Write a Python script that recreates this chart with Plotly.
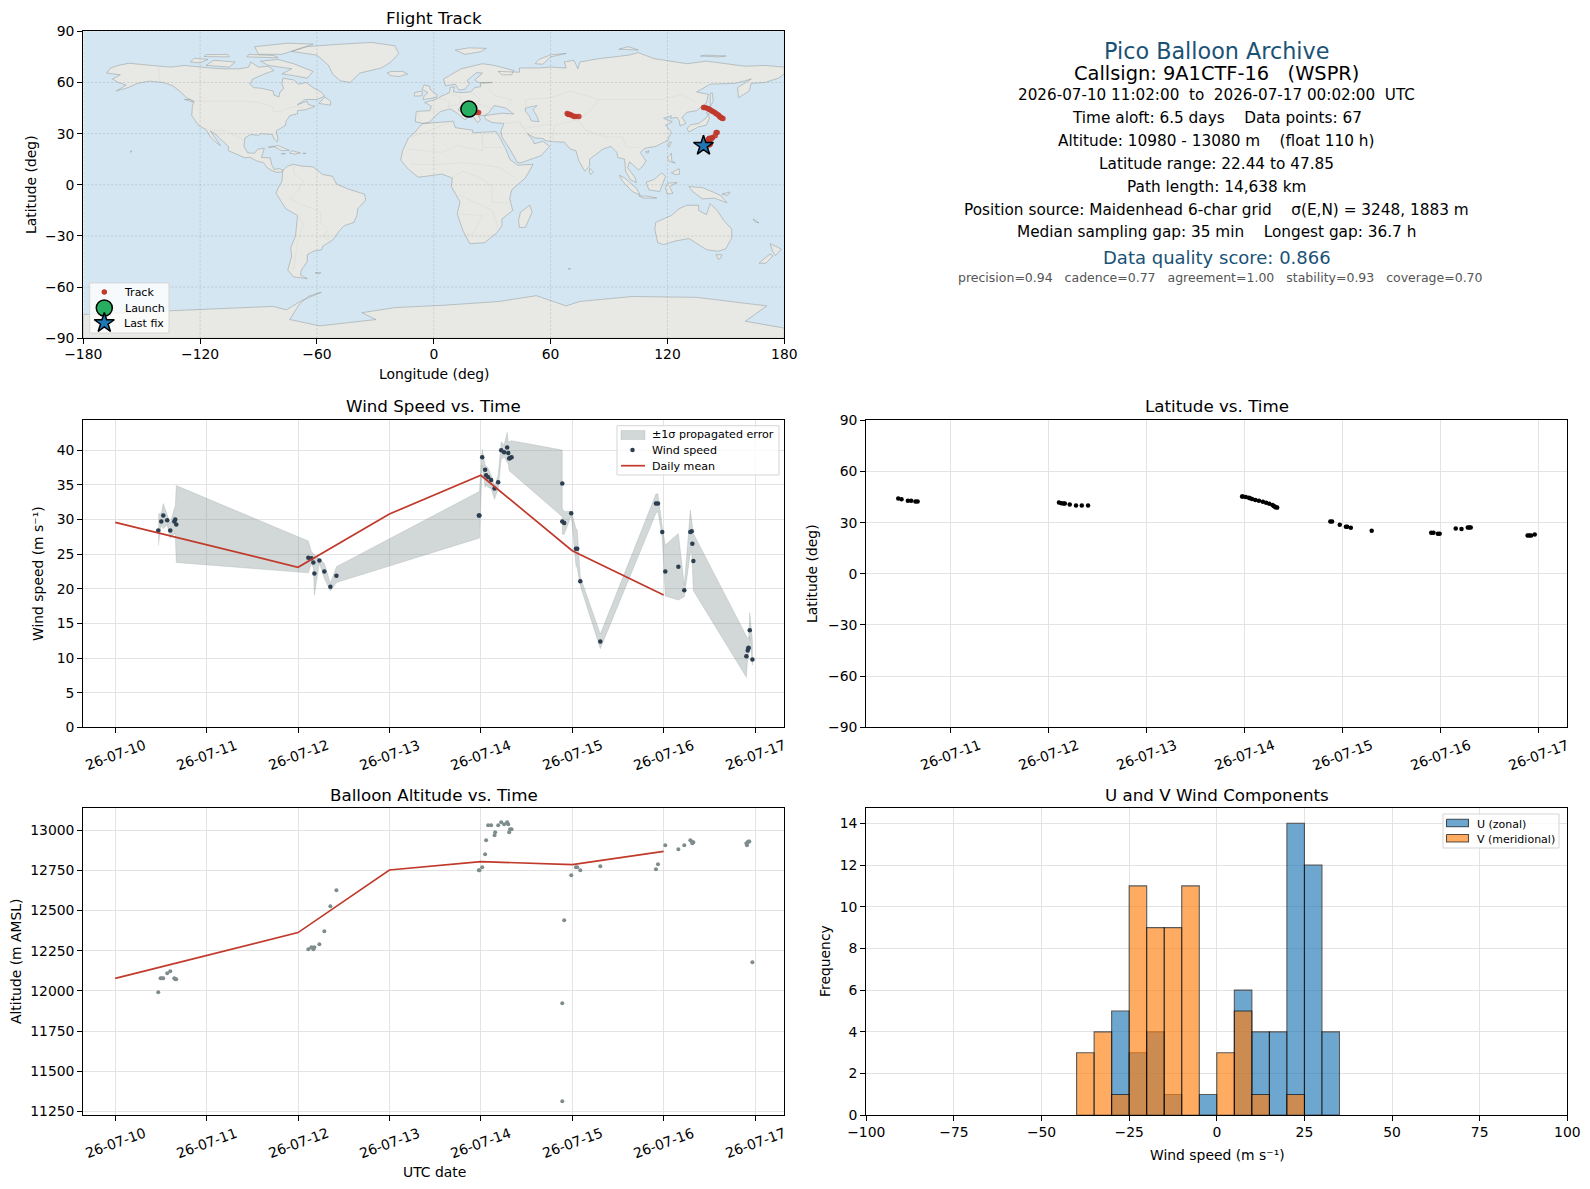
from datetime import datetime, timedelta
import plotly.graph_objects as go

W, H = 1590, 1189
FONT = "DejaVu Sans"
START = datetime(2026, 7, 10)

# panel boxes in pixels: left, right, top, bottom
LEFT_COL = (83.3, 784.3)
RIGHT_COL = (866.3, 1567.3)
ROW1 = (31.3, 338.3)
ROW2 = (420.3, 727.3)
ROW3 = (808.3, 1115.3)

# land outlines (lon, lat)
NORTH_AMERICA = [(-168,65.5),(-166,68.5),(-162,70),(-156.5,71.3),(-150,70.5),(-141,69.7),(-135,69),(-128,70),(-124,69.5),(-115,68.5),(-108,68),(-100,68),(-95,69),(-94,72),(-90,69),(-85,69.5),(-82,67),(-87,65),(-93,62),(-94.5,59),(-92.5,57),(-88,56.5),(-82.5,55),(-82,52.5),(-79.5,51.5),(-79,54.5),(-77,56.5),(-78,59),(-77.5,62.5),(-72,61.5),(-69.5,59),(-65.5,60),(-62,57),(-58,54.5),(-56,52),(-60,50),(-66,50),(-70,47),(-65,49),(-64.5,47),(-61,46),(-66,44),(-70,43.5),(-70,41.7),(-74,40.5),(-76,37),(-76,35),(-81,31.5),(-80,27),(-80.5,25.2),(-82,27),(-83,29.5),(-85,29.7),(-89,30),(-90,29),(-94,29.5),(-97,27.5),(-97.5,22.5),(-95.5,18.7),(-92,18.5),(-90.5,20.8),(-87,21.5),(-88,18),(-88.5,16),(-84,15.8),(-83.3,12),(-82,9),(-79.5,9.5),(-77.5,8.5),(-78,7.5),(-80.5,7.3),(-83,8.2),(-85.5,10),(-87.5,13),(-91,14),(-94.5,16.2),(-97,15.8),(-102,18),(-105.5,20),(-105.5,22.5),(-109,26),(-112.5,30),(-114.7,31.5),(-112,27),(-109.5,23),(-112,25),(-115,28.5),(-117,32.5),(-120.5,34.5),(-122.5,37.5),(-124.3,40.5),(-124,46),(-123,49),(-127,51),(-130,54.5),(-134,58),(-139,60),(-146,60.8),(-152,59.5),(-157,57),(-163,55),(-158,58.5),(-162,60),(-165,62),(-161,64.5),(-168,65.5)]
SOUTH_AMERICA = [(-77.5,8.5),(-75,11),(-72,12),(-68,11),(-62,10.5),(-57,6),(-52,5),(-50,0.5),(-44,-2.5),(-35.5,-5.5),(-35,-9),(-39,-14),(-39.5,-18),(-41,-22),(-46,-24),(-48.5,-27),(-52,-32.5),(-57,-36),(-57.5,-38),(-62,-39),(-65,-41),(-65,-45),(-68,-50),(-68.5,-53),(-65,-55),(-72,-54),(-75,-50),(-73,-42),(-73.5,-37),(-71,-30),(-70,-18),(-76,-14),(-81,-5),(-80,-2),(-78,2),(-77.5,7),(-77.5,8.5)]
EURASIA = [(-9.5,37),(-9,43),(-2,43.5),(-1.2,46),(-4.7,48.3),(1,50),(4,52),(8,54),(8.5,57),(10.5,57.5),(10,54.5),(14,54),(19,54.5),(21,57),(24,57.5),(24,59.5),(30,60),(23,60),(21,61.5),(25,65.5),(22,65.8),(17,61),(18.5,59.5),(16,56),(13,55.5),(11,59),(6,58),(5,62),(14,68),(25,71),(31,70),(41,67),(40,64.5),(35,64.5),(33,66.5),(44,66),(44,68.5),(54,68.5),(60,69),(68,68.5),(67,72),(72,73),(74,68),(75,72),(85,74),(100,76),(105,77.5),(113,74),(130,71),(140,72.5),(160,69.5),(170,70),(180,69),(180,65),(177,62.5),(170,60),(163,59.5),(162,55),(156.5,51),(156,57),(163,62),(155,59.5),(142,59),(135,54.5),(141,53),(140,48),(135,43.5),(130,42.5),(127.5,39.5),(129.5,36),(126.5,34.5),(126,37.5),(125,39.5),(121.5,39),(122,40.5),(118,39),(122.5,37),(119,35),(122,31),(120,26),(114,22.5),(108.5,21.5),(106,19),(109,14),(107,10.5),(105,8.7),(103,11),(100.5,13.5),(99.5,10),(103.5,4),(104,1.3),(101,3),(98.5,8),(98,15),(94.5,16),(94,19),(91,22.5),(87,21),(80,15),(80,11),(77.5,8),(74.5,14),(73,20),(70,21),(67,25),(61,25.3),(57,26),(56.5,27),(52,27.5),(48,30),(51,26),(51.5,24),(56,25.5),(59.5,22.5),(55,17),(45,13),(43,13),(39,21),(35,28),(34.5,31.5),(36,36),(30,36.5),(26.5,38.5),(26,40.5),(29,41),(35,42),(41,41.5),(37,45),(31,46.5),(28,42),(26,40.7),(23,40.5),(24,38),(22.5,36.5),(19.5,41),(13.5,45.5),(12.5,44),(18,40),(16,38),(12,42),(8.5,44.5),(3.5,43),(0,39.5),(-2,36.8),(-5.5,36),(-9.5,37)]
AFRICA = [(-6,35.8),(10,37.3),(11,33.5),(20,32),(20,30.5),(32,31.2),(34,27.5),(37,21),(39,15),(43,11.5),(51,12),(47,4),(40,-3),(39,-8),(40.5,-15),(35,-20),(35,-24),(32.5,-28),(26,-34),(18.5,-34.5),(15,-27),(12,-17),(13.5,-10),(9,-1),(9.5,4),(4,6.3),(-4,5),(-8,4.5),(-13,9),(-17,14.5),(-16,20),(-13,27.5),(-9.5,31),(-6,35.8)]
AUSTRALIA = [(114,-22),(122,-18),(126,-14),(130,-12),(136,-12),(136,-15),(140,-17.5),(142,-11),(145.5,-15),(149,-21),(153,-26),(153,-31),(150,-37.5),(146,-39),(140,-38),(136,-35),(131,-31.5),(124,-33),(118,-35),(115,-34),(113.5,-26),(114,-22)]
GREENLAND = [(-73,78.2),(-65,81),(-50,82.3),(-32,83.5),(-20,81.5),(-18,77),(-22,72),(-27,68.5),(-38,65.5),(-43,60),(-48,61),(-52,65),(-54,70),(-60,76),(-73,78.2)]
ANTARCTICA = [(-180,-76),(-158,-75),(-140,-74.3),(-118.5,-73.3),(-103,-72.3),(-82.5,-71.3),(-75.7,-73.3),(-68,-68),(-57.8,-63),(-64.6,-65.5),(-69,-70),(-74,-79),(-58.6,-82.7),(-29.7,-79),(-37,-75),(-20,-72),(4,-70.7),(33.7,-68.4),(52.6,-65),(68,-71),(75,-68.4),(102,-65.5),(135,-66),(171,-71),(160,-80),(180,-84),(180,-90),(-180,-90),(-180,-76)]
ISLANDS = [
    [(-80,73.5),(-72,71),(-62,66.5),(-65,62.5),(-72,64),(-78,65),(-73,68),(-85,70),(-89,72.5),(-80,73.5)],
    [(-117,70),(-105,69),(-102,72),(-113,73),(-117,70)],
    [(-125,72),(-120,71.5),(-116,73.5),(-123,74.2),(-125,72)],
    [(-90,76.5),(-78,76.5),(-62,82.5),(-75,83),(-92,81),(-90,76.5)],
    [(-96,75),(-80,74.5),(-82,75.8),(-95,76.5),(-96,75)],
    [(-118,75.2),(-105,75),(-106,76.5),(-117,76.3),(-118,75.2)],
    [(-59,47.7),(-53,46.7),(-53,49),(-56,51.5),(-59,47.7)],
    [(-85,22),(-80,23),(-74.2,20.2),(-78,20),(-82,22.3),(-85,22)],
    [(-74,18.5),(-73,20),(-68.5,18.7),(-71,18),(-74,18.5)],
    [(-78.3,18.2),(-76.3,18.2),(-77,17.8),(-78.3,18.2)],
    [(-67.2,18.4),(-65.7,18.4),(-66,18),(-67.2,18.4)],
    [(-128,50),(-125,50),(-123.5,48.4),(-128,50)],
    [(-156,19.5),(-155,19.9),(-155.5,19),(-156,19.5)],
    [(-61,-51.5),(-58,-51.5),(-59,-52.3),(-61,-51.5)],
    [(-5.5,50),(1.5,51.2),(1.5,53),(-2,56),(-2,57.7),(-5,58.5),(-6,56),(-3,54),(-5,52),(-5.5,50)],
    [(-10,52),(-6,52.2),(-6,55),(-10,54),(-10,52)],
    [(-24,65.5),(-22,64),(-18,63.4),(-13.5,65),(-16,66.5),(-22,66.4),(-24,65.5)],
    [(11,79),(16,76.5),(24,78),(27,80),(18,80.3),(11,79)],
    [(52,71),(56,70.7),(60,75),(68,77),(60,76.2),(54,73.5),(52,71)],
    [(95,79.5),(105,79),(100,81),(95,79.5)],
    [(137,75.5),(146,75),(150,75.5),(140,76),(137,75.5)],
    [(142,46),(143.5,49),(143,54),(142,53.5),(142,48),(142,46)],
    [(130,33),(131,31),(136,34),(140,35),(141.5,39),(141,41.5),(139.7,39),(136,36),(132,35.2),(130,33)],
    [(140,42),(141,45.5),(145,43.3),(143,42),(140,42)],
    [(120.2,23),(121,25.2),(122,25),(120.8,22),(120.2,23)],
    [(108.7,19.3),(110.5,20),(110,18.4),(108.7,19.3)],
    [(120,16),(122,18.5),(122.2,14),(124,12.8),(120.8,13.8),(120,16)],
    [(122,7),(126,9.5),(126.3,6.3),(124,6),(122,7)],
    [(109,1.5),(113,3),(117,7),(119,5),(117.7,1),(116,-4),(110.5,-3),(109,1.5)],
    [(95.3,5.6),(98,4),(104,-2),(106,-6),(102,-4),(97,2),(95.3,5.6)],
    [(105.3,-6.5),(110,-6.7),(114.5,-7.8),(108,-7.9),(105.3,-6.5)],
    [(120,1),(125,1.3),(121,-1),(122.8,-5),(120,-5.5),(119,-2),(120,1)],
    [(131,-1),(138,-1.7),(145,-5),(147.5,-6.5),(150.5,-10.5),(144,-7.8),(138,-8.3),(133,-4),(131,-1)],
    [(148,-5.5),(152,-4.2),(151,-6.2),(148,-5.5)],
    [(80,9.7),(82,7.5),(80.5,6),(79.8,8),(80,9.7)],
    [(49.3,-12),(50.5,-16),(47,-25),(44,-25),(43.5,-21),(44.5,-16),(49.3,-12)],
    [(145,-41),(148,-41),(147,-43.5),(146,-43.5),(145,-41)],
    [(172.7,-34.5),(178.5,-37.7),(175.5,-41.5),(174,-39),(172.7,-34.5)],
    [(172.7,-40.6),(174.2,-41.7),(170.5,-46),(167,-46),(171,-42),(172.7,-40.6)],
    [(164,-20),(167,-22.3),(165,-21.8),(164,-20)],
    [(69,-49),(70.3,-49.2),(69.5,-49.8),(69,-49)],
]
CASPIAN = [(47,45),(53,46.5),(51,44),(53,40),(54,37),(50,37.5),(49,40.5),(47,43),(47,45)]
BORDERS = [
    [(-141,69.7),(-141,60.5)],
    [(-123,49),(-95,49),(-89,48),(-83,46),(-82,43),(-79,43),(-75,45),(-70,46),(-67,45)],
    [(-117,32.5),(-106,31.5),(-97.5,26)],
    [(-72,12),(-72,7),(-67,2),(-70,-4),(-74,-8),(-69,-11),(-58,-16),(-58,-22),(-54,-26),(-57,-30),(-53,-33)],
    [(-70,-18),(-67,-23),(-70,-33),(-72,-50)],
    [(-8,43),(-7,37)],[(-2,43.5),(3,42.5)],[(2,51),(8,49),(7,44)],[(8,54),(14,51),(13,47),(7,46)],
    [(19,54.5),(24,50),(22,48),(29,45)],[(28,56),(32,52),(40,50),(38,47)],
    [(48,42),(47,50),(60,51),(70,55),(85,50),(98,50),(107,50),(117,50),(127,53),(135,48)],
    [(85,50),(80,43),(74,38),(62,35),(61,25.3)],[(74,38),(78,32),(88,28),(97,28),(99,22),(106,22)],
    [(36,36),(44,37),(48,30)],[(44,37),(46,33),(61,36)],
    [(-13,27.5),(-2,32),(9,37)],[(-13,21),(4,19),(12,23),(25,20),(25,32)],[(25,22),(37,22)],
    [(-12,12),(4,12),(14,13),(24,12),(34,10),(42,4)],[(9,4),(15,8),(24,4),(30,-1),(30,-10),(40,-11)],
    [(13,-6),(22,-11),(30,-15),(33,-25)],[(12,-17),(25,-18),(20,-29),(17,-29)],
]

# balloon track, days since 26-07-10 00:00
TRACK_DAY = [0.471,0.504,0.569,0.602,0.646,0.668, 2.11,2.134,2.156,2.17,2.22,2.284,2.343,2.407,
             3.978,3.985,4.015,4.047,4.058,4.08,4.113,4.15,4.19,4.223,4.255,4.288,4.30,4.31,4.32,4.336,
             4.878,4.896,4.974,5.037,5.05,5.087,5.30, 5.907,5.93,5.975,5.993,6.157,6.216,6.28,6.294,6.31,
             6.89,6.908,6.926,6.963]
TRACK_LAT = [44.1,43.7,42.9,42.9,42.4,42.4, 41.8,41.4,41.2,41.2,40.6,40,40,40,
             45.3,45.3,45.0,44.6,44.3,43.8,43.3,42.9,42.2,41.6,41.0,40.4,39.8,39.4,39.0,38.8,
             30.6,30.6,28.8,27.6,27.6,27,25.3, 24.1,24.1,23.5,23.5,26.5,26.3,27.1,27.1,27.2,
             22.4,22.4,22.5,23.0]
TRACK_LON = [18,19.5,20,21,22,23, 68.5,69,69.5,70,71,72,73,74.5,
             138.5,139,140,141,141.5,142,143,143.5,144.5,145,146,146.5,147,147.5,148,148.5,
             145.5,145,144.5,143,143,142.5,141.5, 142,142,141.5,141.5,141,141,141.5,141.5,141.5,
             138.5,138.5,138.5,138.5]
LAUNCH_LON, LAUNCH_LAT = 18.0, 44.4
LAST_LON, LAST_LAT = 138.5, 22.9

WIND_DAY = [0.471,0.504,0.526,0.569,0.602,0.646,0.657,0.668, 2.113,2.146,2.168,2.179,2.234,2.288,2.354,2.420,
            3.978,3.985,4.015,4.047,4.058,4.08,4.113,4.15,4.19,4.223,4.255,4.288,4.30,4.31,4.32,4.336,
            4.891,4.891,4.912,4.989,5.04,5.055,5.088,5.307,5.916,5.938,5.985,6.018,6.161,6.226,
            6.292,6.307,6.314,6.325,6.905,6.92,6.927,6.93,6.942,6.971]
WIND_SPEED = [28.4,29.7,30.6,29.9,28.4,29.7,30.0,29.3, 24.5,24.4,23.8,22.2,24.1,22.5,20.3,21.9,
              30.6,30.6,39.0,37.2,36.4,36.1,35.7,34.5,35.4,40.0,39.7,40.4,39.6,38.8,38.9,39.0,
              35.2,29.7,29.5,30.9,25.8,25.8,21.1,12.4,32.3,32.3,28.2,22.5,23.2,19.8,
              28.2,28.3,26.5,24.0,10.25,11.1,11.4,11.5,14.0,9.8]
WIND_UPPER = [30.8,30.9,32.3,30.65,29.45,31.6,31.9,34.9, 26.9,25.4,25.0,24.9,24.25,23.7,20.8,23.2,
              34.02,34.17,40.13,37.87,37.78,37.39,36.43,34.84,36.43,41.24,40.76,42.59,41.19,41.24,41.29,41.39,
              40.04,31.62,31.14,31.23,28.73,28.49,21.75,13.47,33.69,33.69,28.97,26.32,28.0,20.55,
              31.38,29.69,28.39,28.0,13.19,12.85,13.0,13.09,16.55,12.61]
WIND_LOWER = [26.2,29.2,28.7,29.2,27.3,27.9,28.0,23.8, 22.3,23.7,23.0,19.1,23.7,21.5,19.7,20.9,
              27.3,27.33,37.82,34.65,34.99,34.65,34.5,32.92,34.41,38.69,38.98,38.26,38.02,37.05,36.91,36.77,
              30.41,27.86,27.86,30.56,23.44,22.95,20.45,11.36,30.9,31.14,27.29,18.96,18.38,18.86,
              25.12,25.36,24.74,19.73,7.22,10.2,9.82,9.96,13.09,9.0]
MEAN_DAY = [0, 2, 3, 4, 5, 6]
MEAN_WIND = [29.6, 23.1, 30.8, 36.4, 25.5, 19.1]
MEAN_ALT = [12078, 12363, 12753, 12805, 12786, 12869]

ALT_DAY = [0.471,0.496,0.511,0.526,0.569,0.602,0.646,0.657,0.668, 2.113,2.146,2.168,2.179,2.234,2.288,2.354,2.420,
           3.978,3.985,4.015,4.047,4.058,4.08,4.113,4.15,4.157,4.19,4.223,4.255,4.288,4.30,4.31,4.32,4.336,
           4.891,4.891,4.912,4.989,5.04,5.055,5.088,5.307,5.916,5.938,6.018,6.161,6.226,6.292,6.307,6.314,6.325,
           6.905,6.912,6.92,6.927,6.938,6.971]
ALTITUDE = [11991,12078,12078,12078,12109,12122,12078,12072,12072, 12259,12271,12259,12271,12290,12371,12527,12626,
            12751,12751,12770,12851,12938,13031,13031,12969,12988,13031,13050,13037,13050,13037,12988,13006,13006,
            11312,11923,12439,12720,12770,12770,12751,12776,12757,12788,12907,12882,12907,12938,12931,12919,12925,
            12919,12907,12925,12931,12931,12178]

BIN_CENTERS = [-37.5,-32.5,-27.5,-22.5,-17.5,-12.5,-7.5,-2.5,2.5,7.5,12.5,17.5,22.5,27.5,32.5]
U_COUNTS = [0,0,5,3,4,1,0,1,0,6,4,4,14,12,4]
V_COUNTS = [3,4,1,11,9,9,11,0,3,5,1,0,1,0,0]

DAY_TICKS = [0, 1, 2, 3, 4, 5, 6, 7]
DAY_LABELS = ["26-07-10", "26-07-11", "26-07-12", "26-07-13", "26-07-14", "26-07-15", "26-07-16", "26-07-17"]

OCEAN = "#d4e6f1"
LAND = "#e8e8e4"
RED = "#c0392b"
GREEN = "#27ae60"
STEEL = "#2c3e50"
GREY = "#7f8c8d"
BAND = "rgba(127,140,141,0.35)"
COAST = "rgba(140,148,150,0.6)"
U_FILL = "rgba(31,119,180,0.65)"
V_FILL = "rgba(255,127,14,0.65)"


def when(d):
    return START + timedelta(days=d)


def whens(days):
    return [when(d) for d in days]


def note(text, x, y, size, color="black", angle=0, anchor="center"):
    fig.add_annotation(xref="paper", yref="paper", x=x / W, y=1 - y / H, text=text, showarrow=False,
                       textangle=angle, xanchor=anchor, yanchor="middle",
                       font=dict(family=FONT, size=size, color=color))


def axis_style(col, row, anchor, grid=True, **kw):
    if anchor.startswith("y"):
        dom = [col[0] / W, col[1] / W]
    else:
        dom = [1 - row[1] / H, 1 - row[0] / H]
    return dict(domain=dom, anchor=anchor, showline=True, linecolor="black", linewidth=1.2, mirror=True,
                ticks="outside", ticklen=5, tickwidth=1, tickcolor="black", showgrid=grid,
                gridcolor="#e3e3e3", gridwidth=1.1, zeroline=False, automargin=False,
                tickfont=dict(family=FONT, size=13.9, color="black"), **kw)


def xy(points):
    return [p[0] for p in points], [p[1] for p in points]


def key_box(x0, x1, y0, y1, fill, line, width=1.0):
    # rectangle in the pixel axes, used for legend frames and swatches
    fig.add_trace(go.Scatter(x=[x0, x1, x1, x0, x0], y=[y0, y0, y1, y1, y0], mode="lines", fill="toself",
                             fillcolor=fill, line=dict(color=line, width=width), hoverinfo="skip",
                             showlegend=False, xaxis="x6", yaxis="y6"))


def key_dot(x, y, color, size, symbol="circle", edge=0):
    fig.add_trace(go.Scatter(x=[x], y=[y], mode="markers", hoverinfo="skip", showlegend=False, xaxis="x6", yaxis="y6",
                             marker=dict(color=color, size=size, symbol=symbol, line=dict(color="black", width=edge))))


fig = go.Figure()

# map panel
land_lons, land_lats = [], []
for shape in [NORTH_AMERICA, SOUTH_AMERICA, EURASIA, AFRICA, AUSTRALIA, GREENLAND, ANTARCTICA] + ISLANDS:
    lons, lats = xy(shape)
    land_lons += lons + [None]
    land_lats += lats + [None]
fig.add_trace(go.Scatter(x=land_lons, y=land_lats, mode="lines", fill="toself", fillcolor=LAND,
                         line=dict(color=COAST, width=0.8), hoverinfo="skip",
                         showlegend=False, xaxis="x", yaxis="y"))
lons, lats = xy(CASPIAN)
fig.add_trace(go.Scatter(x=lons, y=lats, mode="lines", fill="toself", fillcolor=OCEAN,
                         line=dict(color=COAST, width=0.8), hoverinfo="skip",
                         showlegend=False, xaxis="x", yaxis="y"))
border_lons, border_lats = [], []
for line in BORDERS:
    lons, lats = xy(line)
    border_lons += lons + [None]
    border_lats += lats + [None]
fig.add_trace(go.Scatter(x=border_lons, y=border_lats, mode="lines", line=dict(color="#dcdcd8", width=0.7),
                         hoverinfo="skip", showlegend=False, xaxis="x", yaxis="y"))

# map grid goes over the land
MAP_LON_TICKS = [-180, -120, -60, 0, 60, 120, 180]
MAP_LAT_TICKS = [-90, -60, -30, 0, 30, 60, 90]
grid_x, grid_y = [], []
for lon in MAP_LON_TICKS:
    grid_x += [lon, lon, None]
    grid_y += [-90, 90, None]
for lat in MAP_LAT_TICKS:
    grid_x += [-180, 180, None]
    grid_y += [lat, lat, None]
fig.add_trace(go.Scatter(x=grid_x, y=grid_y, mode="lines", line=dict(color="rgba(110,120,125,0.3)", width=0.8, dash="2px,2px"),
                         hoverinfo="skip", showlegend=False, xaxis="x", yaxis="y"))

fig.add_trace(go.Scatter(x=TRACK_LON, y=TRACK_LAT, mode="markers", name="Track", xaxis="x", yaxis="y", showlegend=False,
                         marker=dict(color=RED, size=5.5, opacity=0.9)))
fig.add_trace(go.Scatter(x=[LAUNCH_LON], y=[LAUNCH_LAT], mode="markers", name="Launch", xaxis="x", yaxis="y", showlegend=False,
                         marker=dict(color=GREEN, size=16, line=dict(color="black", width=1.5))))
fig.add_trace(go.Scatter(x=[LAST_LON], y=[LAST_LAT], mode="markers", name="Last fix", xaxis="x", yaxis="y", showlegend=False,
                         marker=dict(color="#1f77b4", size=15, symbol="star", line=dict(color="black", width=1.5))))

# wind speed panel
band_x = whens(WIND_DAY) + whens(WIND_DAY)[::-1]
band_y = WIND_UPPER + WIND_LOWER[::-1]
fig.add_trace(go.Scatter(x=band_x, y=band_y, mode="lines", fill="toself", fillcolor=BAND,
                         line=dict(color=BAND, width=0.6), name="±1σ propagated error",
                         xaxis="x2", yaxis="y2", showlegend=False, hoverinfo="skip"))
fig.add_trace(go.Scatter(x=whens(WIND_DAY), y=WIND_SPEED, mode="markers", name="Wind speed", xaxis="x2", yaxis="y2", showlegend=False,
                         marker=dict(color=STEEL, size=4.5)))
fig.add_trace(go.Scatter(x=whens(MEAN_DAY), y=MEAN_WIND, mode="lines", name="Daily mean", xaxis="x2", yaxis="y2", showlegend=False,
                         line=dict(color=RED, width=1.7)))

# latitude panel
fig.add_trace(go.Scatter(x=whens(TRACK_DAY), y=TRACK_LAT, mode="markers", xaxis="x3", yaxis="y3", showlegend=False,
                         marker=dict(color="black", size=4.5)))

# altitude panel
fig.add_trace(go.Scatter(x=whens(ALT_DAY), y=ALTITUDE, mode="markers", xaxis="x4", yaxis="y4", showlegend=False,
                         marker=dict(color=GREY, size=4)))
fig.add_trace(go.Scatter(x=whens(MEAN_DAY), y=MEAN_ALT, mode="lines", xaxis="x4", yaxis="y4", showlegend=False,
                         line=dict(color=RED, width=1.7)))

# histogram panel
fig.add_trace(go.Bar(x=BIN_CENTERS, y=U_COUNTS, width=5, name="U (zonal)", xaxis="x5", yaxis="y5", showlegend=False,
                     marker=dict(color="#1f77b4", opacity=0.65, line=dict(color="black", width=1.1))))
fig.add_trace(go.Bar(x=BIN_CENTERS, y=V_COUNTS, width=5, name="V (meridional)", xaxis="x5", yaxis="y5", showlegend=False,
                     marker=dict(color="#ff7f0e", opacity=0.65, line=dict(color="black", width=1.1))))

# legends sit in a pixel-scaled overlay so their spacing can follow the original
FRAME_FILL = "rgba(255,255,255,0.8)"
FRAME_LINE = "#d5d5d5"
key_box(89.7, 169, 283, 333, FRAME_FILL, FRAME_LINE)
key_dot(104.3, 292, RED, 5.5)
key_dot(104.3, 308, GREEN, 16, edge=1.5)
key_dot(104.3, 323, "#1f77b4", 15, "star", 1.5)
key_box(617, 779, 425.7, 475, FRAME_FILL, FRAME_LINE)
key_box(621, 645, 430.5, 439.5, BAND, BAND, 0.6)
key_dot(632.5, 450, STEEL, 4.5)
fig.add_trace(go.Scatter(x=[621, 645], y=[465.7, 465.7], mode="lines", line=dict(color=RED, width=1.7),
                         hoverinfo="skip", showlegend=False, xaxis="x6", yaxis="y6"))
key_box(1443, 1559, 814, 848, FRAME_FILL, FRAME_LINE)
key_box(1446.5, 1468.5, 819.3, 826.8, U_FILL, "rgba(0,0,0,0.65)", 1.1)
key_box(1446.5, 1468.5, 834.5, 842, V_FILL, "rgba(0,0,0,0.65)", 1.1)

date_ticks = whens(DAY_TICKS)
fig.update_layout(
    template="none", width=W, height=H, margin=dict(l=0, r=0, t=0, b=0, pad=0), paper_bgcolor="white",
    plot_bgcolor="rgba(0,0,0,0)",
    barmode="overlay", showlegend=False, font=dict(family=FONT, size=13.9, color="black"),
    xaxis=axis_style(LEFT_COL, ROW1, "y", grid=False, range=[-180, 180], tickvals=MAP_LON_TICKS, ticklabelstandoff=-2),
    yaxis=axis_style(LEFT_COL, ROW1, "x", grid=False, range=[-90, 90], tickvals=MAP_LAT_TICKS),
    xaxis2=axis_style(LEFT_COL, ROW2, "y2", type="date", range=[when(-0.349), when(7.32)], tickvals=date_ticks, showticklabels=False),
    yaxis2=axis_style(LEFT_COL, ROW2, "x2", range=[0, 44.33], tickvals=[0, 5, 10, 15, 20, 25, 30, 35, 40]),
    xaxis3=axis_style(RIGHT_COL, ROW2, "y3", type="date", range=[when(0.145), when(7.295)], tickvals=date_ticks[1:], showticklabels=False),
    yaxis3=axis_style(RIGHT_COL, ROW2, "x3", range=[-90, 90], tickvals=MAP_LAT_TICKS),
    xaxis4=axis_style(LEFT_COL, ROW3, "y4", type="date", range=[when(-0.349), when(7.32)], tickvals=date_ticks, showticklabels=False),
    yaxis4=axis_style(LEFT_COL, ROW3, "x4", range=[11225, 13137], tickformat="d",
                      tickvals=[11250, 11500, 11750, 12000, 12250, 12500, 12750, 13000]),
    xaxis5=axis_style(RIGHT_COL, ROW3, "y5", range=[-100, 100], tickvals=[-100, -75, -50, -25, 0, 25, 50, 75, 100], ticklabelstandoff=-1),
    yaxis5=axis_style(RIGHT_COL, ROW3, "x5", range=[0, 14.72], tickvals=[0, 2, 4, 6, 8, 10, 12, 14]),
    xaxis6=dict(domain=[0, 1], range=[0, W], visible=False, anchor="y6", fixedrange=True),
    yaxis6=dict(domain=[0, 1], range=[H, 0], visible=False, anchor="x6", fixedrange=True),
    shapes=[dict(type="rect", xref="x", yref="y", x0=-180, x1=180, y0=-90, y1=90, layer="below",
                 fillcolor=OCEAN, line=dict(width=0))],
)

# legend labels
note("Track", 121.8, 293, 11, anchor="left")
note("Launch", 122.8, 309, 11, anchor="left")
note("Last fix", 121.8, 324, 11, anchor="left")
note("±1σ propagated error", 650.3, 434.5, 11.1, anchor="left")
note("Wind speed", 650.3, 450, 11.1, anchor="left")
note("Daily mean", 650.3, 466.5, 11.1, anchor="left")
note("U (zonal)", 1475, 824, 11, anchor="left")
note("V (meridional)", 1475, 839.3, 11, anchor="left")

# panel titles
for title, col, y in [("Flight Track", LEFT_COL, 18.3), ("Wind Speed vs. Time", LEFT_COL, 405.6),
                      ("Latitude vs. Time", RIGHT_COL, 405.6), ("Balloon Altitude vs. Time", LEFT_COL, 795.2),
                      ("U and V Wind Components", RIGHT_COL, 795.2)]:
    note(title, (col[0] + col[1]) / 2, y, 16.7)

# axis titles
note("Longitude (deg)", 434, 374, 13.9)
note("Latitude (deg)", 31, 185, 13.9, angle=-90)
note("Wind speed (m s⁻¹)", 38, 574, 13.9, angle=-90)
note("Latitude (deg)", 812, 574, 13.9, angle=-90)
note("Altitude (m AMSL)", 16, 961, 13.9, angle=-90)
note("Frequency", 825, 961, 13.9, angle=-90)
note("UTC date", 434, 1172, 13.9)
note("Wind speed (m s⁻¹)", 1217, 1155, 13.9)

# rotated date labels, centred on their ticks
for axis_name, labels, bottom in [("x2", DAY_LABELS, ROW2[1]), ("x3", DAY_LABELS[1:], ROW2[1]), ("x4", DAY_LABELS, ROW3[1])]:
    days = DAY_TICKS[-len(labels):]
    for d, label in zip(days, labels):
        fig.add_annotation(xref=axis_name, yref="paper", x=when(d), y=1 - (bottom + 27.5) / H, text=label,
                           showarrow=False, textangle=-20, xanchor="center", yanchor="middle",
                           font=dict(family=FONT, size=13.9, color="black"))

# summary block
CX = 1216.8
note("Pico Balloon Archive", CX, 50.7, 22.3, "#1a5276")
note("Callsign: 9A1CTF-16   (WSPR)", CX, 73.5, 19.4)
note("2026-07-10 11:02:00  to  2026-07-17 00:02:00  UTC", CX, 95.3, 15.2)
note("Time aloft: 6.5 days    Data points: 67", CX, 118, 15.3)
note("Altitude: 10980 - 13080 m    (float 110 h)", CX, 141, 15.3)
note("Latitude range: 22.44 to 47.85", CX, 163.5, 15.3)
note("Path length: 14,638 km", CX, 187, 15.3)
note("Position source: Maidenhead 6-char grid    σ(E,N) = 3248, 1883 m", CX, 209.5, 15.3)
note("Median sampling gap: 35 min    Longest gap: 36.7 h", CX, 232.5, 15.3)
note("Data quality score: 0.866", CX, 257, 18, "#1a5276")
note("precision=0.94   cadence=0.77   agreement=1.00   stability=0.93   coverage=0.70", 1220, 278, 12.5, "#555555")

fig.write_html("out.html", config={"displayModeBar": False}, post_script="document.body.style.margin='0';")
